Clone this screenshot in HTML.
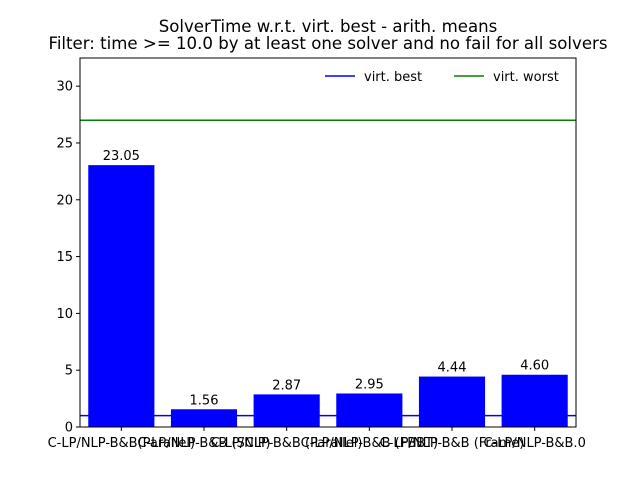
<!DOCTYPE html>
<html><head><meta charset="utf-8"><style>
body{margin:0;background:#fff;font-family:"Liberation Sans","DejaVu Sans",sans-serif}
svg text{font-family:"DejaVu Sans","Liberation Sans",sans-serif}
</style></head><body>
<svg id="c" width="640" height="480">
<rect width="640" height="480" fill="#fff"/>
<text x="328" y="32" font-size="16.6" text-anchor="middle">SolverTime w.r.t. virt. best - arith. means</text>
<text x="328" y="49" font-size="16.6" text-anchor="middle">Filter: time &gt;= 10.0 by at least one solver and no fail for all solvers</text>
<g id="g"></g>
</svg>
<script>
const categories=["C-LP/NLP-B&B(Parallel)","C-LP/NLP-B&B (SCIP)","C-LP/NLP-B&B (Parallel)","C-LP/NLP-B&B (FBBT)","C-LP/NLP-B&B (Frame)","C-LP/NLP-B&B.0"];
const values=[23.05,1.56,2.87,2.95,4.44,4.60];
const valueLabels=["23.05","1.56","2.87","2.95","4.44","4.60"];
const yTicks=[0,5,10,15,20,25,30];
const virtBest=1.0, virtWorst=27.0;
const L=80,R=576,T=58,B=427,YMAX=32.48;
const ns="http://www.w3.org/2000/svg",g=document.getElementById('g');
const y=v=>B-(v/YMAX)*(B-T);
const bw=(R-L)/categories.length;
const x=i=>L+bw*(i+0.5);
function mk(t,a,txt){const e=document.createElementNS(ns,t);for(const k in a)e.setAttribute(k,a[k]);if(txt!=null)e.textContent=txt;g.appendChild(e);return e;}
values.forEach((v,i)=>{
 const r=mk('rect',{x:x(i)-bw*0.4,y:y(v),width:bw*0.8,height:B-y(v),fill:'#0000ff'});
 
 
 const t=mk('text',{x:x(i),y:y(v)-5,'font-size':13,'text-anchor':'middle'},valueLabels[i]);
 
 
 const tk=mk('line',{x1:x(i),x2:x(i),y1:B,y2:B+4,stroke:'#000'});
 
 
 const xl=mk('text',{x:x(i),y:B+20,'font-size':13,'text-anchor':'middle'},categories[i]);
 
 
});
const lb=mk('line',{x1:L,x2:R,y1:y(virtBest),y2:y(virtBest),stroke:'#0000ff','stroke-width':1.5});


const lw=mk('line',{x1:L,x2:R,y1:y(virtWorst),y2:y(virtWorst),stroke:'#008000','stroke-width':1.5});


yTicks.forEach(v=>{
 const t=mk('line',{x1:L-4,x2:L,y1:y(v),y2:y(v),stroke:'#000'});
 
 
 const l=mk('text',{x:L-7,y:y(v)+4.5,'font-size':13,'text-anchor':'end'},String(v));
 
 
});
const fr=mk('rect',{x:L,y:T,width:R-L,height:B-T,fill:'none',stroke:'#000'});


const le1=mk('line',{x1:325,x2:355,y1:76,y2:76,stroke:'#0000ff','stroke-width':1.5});


const lt1=mk('text',{x:364,y:81,'font-size':13},'virt. best');


const le2=mk('line',{x1:454,x2:484,y1:76,y2:76,stroke:'#008000','stroke-width':1.5});


const lt2=mk('text',{x:493,y:81,'font-size':13},'virt. worst');


</script>
</body></html>
